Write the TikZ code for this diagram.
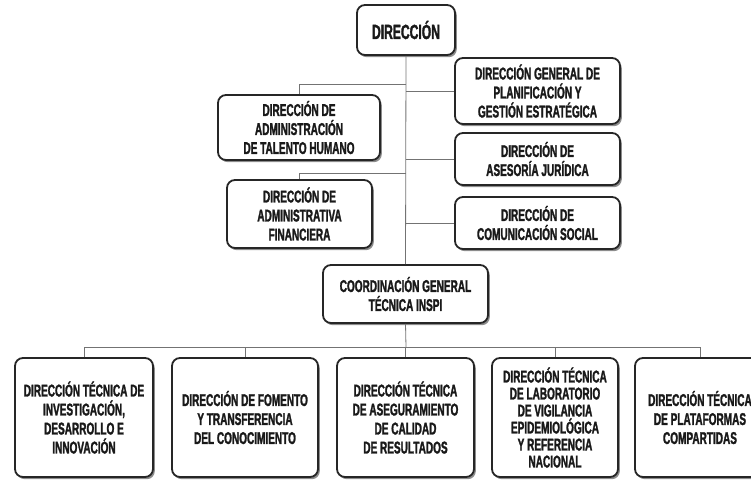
\documentclass[tikz,border=0pt]{standalone}
\usepackage{fontspec}
\setmainfont{Liberation Sans Bold}[FakeStretch=0.59, FakeBold=1.5]
\usetikzlibrary{shadows}
\begin{document}
\begin{tikzpicture}[x=1pt,y=-1pt,
  orgbox/.style={draw=black!85, line width=1.8pt, rounded corners=8pt, fill=white,
    drop shadow={shadow xshift=1.8pt, shadow yshift=-2.2pt, fill=black, opacity=0.45},
    align=center, inner sep=2pt, font=\fontsize{17}{19}\selectfont,
    text=black!90},
  link/.style={draw=black!55, line width=0.8pt}]
\useasboundingbox (0,0) rectangle (751,479);
\begin{scope}
\clip (0,0) rectangle (751,479);
\node[orgbox, minimum width=98pt, minimum height=50pt, font=\fontsize{20.5}{22}\selectfont] (dir) at (406,30) {DIRECCIÓN};
\node[orgbox, minimum width=165pt, minimum height=66pt] (plan) at (537.5,91) {DIRECCIÓN GENERAL DE\\PLANIFICACIÓN Y\\GESTIÓN ESTRATÉGICA};
\node[orgbox, minimum width=162pt, minimum height=65pt] (tal) at (299,127.5) {DIRECCIÓN DE\\ADMINISTRACIÓN\\DE TALENTO HUMANO};
\node[orgbox, minimum width=165pt, minimum height=52pt] (ase) at (537.5,159) {DIRECCIÓN DE\\ASESORÍA JURÍDICA};
\node[orgbox, minimum width=145pt, minimum height=68pt] (fin) at (299.5,214) {DIRECCIÓN DE\\ADMINISTRATIVA\\FINANCIERA};
\node[orgbox, minimum width=165pt, minimum height=52pt] (com) at (537.5,223) {DIRECCIÓN DE\\COMUNICACIÓN SOCIAL};
\node[orgbox, minimum width=165pt, minimum height=58pt] (coo) at (405.5,294) {COORDINACIÓN GENERAL\\TÉCNICA INSPI};
\node[orgbox, minimum width=138pt, minimum height=119pt] (b1) at (84,417.5) {DIRECCIÓN TÉCNICA DE\\INVESTIGACIÓN,\\DESARROLLO E\\INNOVACIÓN};
\node[orgbox, minimum width=146pt, minimum height=119pt] (b2) at (245,417.5) {DIRECCIÓN DE FOMENTO\\Y TRANSFERENCIA\\DEL CONOCIMIENTO};
\node[orgbox, minimum width=137pt, minimum height=119pt] (b3) at (405.5,417.5) {DIRECCIÓN TÉCNICA\\DE ASEGURAMIENTO\\DE CALIDAD\\DE RESULTADOS};
\node[orgbox, minimum width=126pt, minimum height=119pt, font=\fontsize{17}{17}\selectfont] (b4) at (555,417.5) {DIRECCIÓN TÉCNICA\\DE LABORATORIO\\DE VIGILANCIA\\EPIDEMIOLÓGICA\\Y REFERENCIA\\NACIONAL};
\node[orgbox, minimum width=130pt, minimum height=119pt] (b5) at (700,417.5) {DIRECCIÓN TÉCNICA\\DE PLATAFORMAS\\COMPARTIDAS};
\coordinate (t1) at (406,84);
\coordinate (t2) at (406,173);
\coordinate (bus) at (406,347);
\draw[link] (dir.south) -- (coo.north);
\draw[link] (tal.north) |- (t1);
\draw[link] (fin.north) |- (t2);
\draw[link] (plan.west) -- (plan.west -| dir.south);
\draw[link] (ase.west) -- (ase.west -| dir.south);
\draw[link] (com.west) -- (com.west -| dir.south);
\draw[link] (coo.south) -- (bus);
\foreach \b in {b1,b2,b3,b4,b5} \draw[link] (\b.north) |- (bus);
\end{scope}
\end{tikzpicture}
\end{document}
